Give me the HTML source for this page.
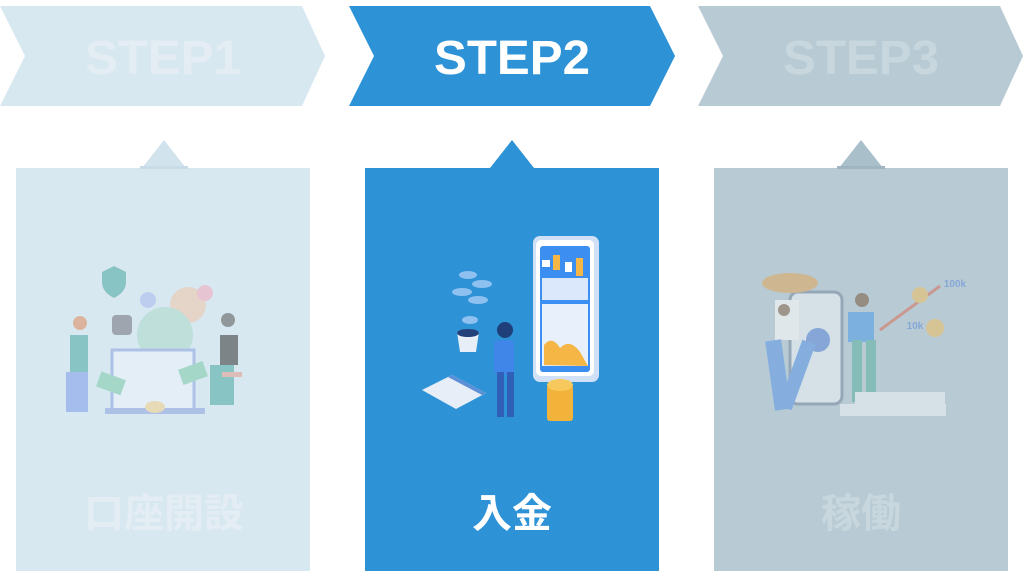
<!DOCTYPE html>
<html><head><meta charset="utf-8"><style>
html,body{margin:0;padding:0;background:#fff;width:1024px;height:576px;overflow:hidden}
svg{display:block}
text{font-family:"Liberation Sans","Noto Sans CJK JP",sans-serif;font-weight:bold;text-anchor:middle}
</style></head><body>
<svg width="1024" height="576" viewBox="0 0 1024 576" xmlns="http://www.w3.org/2000/svg">
<polygon points="0,6 302,6 325,56 302,106 0,106 25,56" fill="#d8e8f1"/>
<polygon points="349,6 650,6 675,56 650,106 349,106 374,56" fill="#2e93d6"/>
<polygon points="698,6 1000,6 1023,56 1000,106 698,106 723,56" fill="#b8cbd4"/>
<text x="163" y="74" font-size="48" fill="#e3edf3" textLength="156" lengthAdjust="spacingAndGlyphs">STEP1</text>
<text x="512" y="74" font-size="48" fill="#ffffff" textLength="156" lengthAdjust="spacingAndGlyphs">STEP2</text>
<text x="861" y="74" font-size="48" fill="#c8d7de" textLength="156" lengthAdjust="spacingAndGlyphs">STEP3</text>
<rect x="16" y="168" width="294" height="403" fill="#d8e8f1"/>
<rect x="365" y="168" width="294" height="403" fill="#2e93d6"/>
<rect x="714" y="168" width="294" height="403" fill="#b8cbd4"/>
<polygon points="164,140 186,168 142,168" fill="#d1e3ed"/>
<polygon points="512,140 534,168 490,168" fill="#2e93d6"/>
<polygon points="861,140 883,168 839,168" fill="#a9bfc9"/>
<rect x="140" y="166" width="48" height="3" fill="#c8dce7"/>
<rect x="837" y="166" width="48" height="3" fill="#9fb6c1"/>
<g opacity="0.55">
<path d="M102,272 l12,-6 l12,6 v10 q0,10 -12,16 q-12,-6 -12,-16z" fill="#4aa8a0"/>
<circle cx="148" cy="300" r="8" fill="#a6b8ee"/>
<circle cx="188" cy="305" r="18" fill="#f0c6a8"/>
<circle cx="205" cy="293" r="8" fill="#f2a7b8"/>
<rect x="112" y="315" width="20" height="20" rx="4" fill="#6f6f78"/>
<circle cx="165" cy="335" r="28" fill="#a9d9c8"/>
<rect x="112" y="350" width="82" height="60" fill="#eef4fb" stroke="#8aa3e0" stroke-width="3"/>
<rect x="105" y="408" width="100" height="6" fill="#8aa3e0"/>
<rect x="98" y="375" width="26" height="16" fill="#7ccaa8" transform="rotate(20 110 383)"/>
<rect x="180" y="365" width="26" height="16" fill="#7ccaa8" transform="rotate(-20 193 373)"/>
<ellipse cx="155" cy="407" rx="10" ry="6" fill="#f2cf88"/>
<rect x="70" y="335" width="18" height="38" fill="#4aa8a0"/>
<rect x="66" y="372" width="22" height="40" fill="#7b9be8"/>
<circle cx="80" cy="323" r="7" fill="#e08a5a"/>
<rect x="220" y="335" width="18" height="30" fill="#333"/>
<rect x="210" y="365" width="24" height="40" fill="#4aa8a0"/>
<circle cx="228" cy="320" r="7" fill="#555"/>
<rect x="222" y="372" width="20" height="5" fill="#e09a88"/>
</g>
<g>
<rect x="533" y="236" width="66" height="146" rx="7" fill="#cfe0f7"/>
<rect x="536" y="240" width="58" height="136" rx="5" fill="#ffffff"/>
<rect x="540" y="246" width="50" height="126" rx="3" fill="#3c8ef0"/>
<rect x="542" y="260" width="8" height="7" fill="#fff"/><rect x="553" y="255" width="7" height="15" fill="#f5b646"/>
<rect x="565" y="262" width="7" height="10" fill="#fff"/><rect x="576" y="258" width="7" height="18" fill="#f5b646"/>
<rect x="542" y="278" width="46" height="22" fill="#dbe8fb"/>
<rect x="542" y="304" width="46" height="62" fill="#e8f0fc"/>
<path d="M544,365 L544,345 Q552,335 560,348 Q570,338 580,352 L588,366z" fill="#f5b646"/>
<ellipse cx="468" cy="275" rx="9" ry="4" fill="#8ec0f0"/>
<ellipse cx="482" cy="284" rx="10" ry="4" fill="#8ec0f0"/>
<ellipse cx="462" cy="292" rx="10" ry="4" fill="#8ec0f0"/>
<ellipse cx="478" cy="300" rx="10" ry="4" fill="#8ec0f0"/>
<ellipse cx="470" cy="320" rx="8" ry="4" fill="#8ec0f0"/>
<path d="M457,332 h22 l-3,20 h-16z" fill="#e7eef7"/>
<ellipse cx="468" cy="333" rx="11" ry="4" fill="#24407a"/>
<polygon points="422,390 452,375 486,393 456,409" fill="#e7eef7"/>
<polygon points="448,377 452,375 486,393 482,395" fill="#5c8fd6"/>
<circle cx="505" cy="330" r="8" fill="#1f3f7a"/>
<rect x="494" y="340" width="20" height="35" rx="5" fill="#3f86e8"/>
<rect x="497" y="372" width="7" height="45" fill="#2f5fb6"/>
<rect x="507" y="372" width="7" height="45" fill="#2f5fb6"/>
<rect x="547" y="385" width="26" height="36" rx="3" fill="#f3b33b"/>
<ellipse cx="560" cy="385" rx="13" ry="6" fill="#f7c95c"/>
</g>
<g opacity="0.55">
<rect x="790" y="292" width="52" height="112" rx="8" fill="#eef3f8" stroke="#7a8aa0" stroke-width="3"/>
<circle cx="818" cy="340" r="12" fill="#5c88d8"/>
<ellipse cx="790" cy="283" rx="28" ry="10" fill="#e0a85a"/>
<rect x="775" y="300" width="24" height="40" fill="#fff"/>
<circle cx="784" cy="310" r="6" fill="#8a6a50"/>
<rect x="770" y="340" width="16" height="70" fill="#5c98e8" transform="rotate(-8 778 375)"/>
<rect x="790" y="340" width="14" height="70" fill="#5c98e8" transform="rotate(20 797 375)"/>
<rect x="848" y="312" width="26" height="30" fill="#4c9ae8"/>
<circle cx="862" cy="300" r="7" fill="#7a5a40"/>
<rect x="852" y="340" width="10" height="62" fill="#5cb0a0"/>
<rect x="866" y="340" width="10" height="52" fill="#5cb0a0"/>
<rect x="840" y="404" width="106" height="12" fill="#eef3f8"/>
<rect x="855" y="392" width="90" height="12" fill="#eef3f8"/>
<line x1="880" y1="330" x2="940" y2="286" stroke="#d8705a" stroke-width="3"/>
<text x="955" y="287" font-size="10" fill="#5c88d8" font-weight="normal">100k</text>
<text x="915" y="329" font-size="10" fill="#5c88d8" font-weight="normal">10k</text>
<circle cx="935" cy="328" r="9" fill="#f0c060"/>
<circle cx="920" cy="295" r="8" fill="#f0c060"/>
</g>
<text x="164" y="527" font-size="40" fill="#e3edf3">口座開設</text>
<text x="512" y="527" font-size="40" fill="#ffffff">入金</text>
<text x="861" y="527" font-size="40" fill="#c8d7de">稼働</text>
</svg>
</body></html>
